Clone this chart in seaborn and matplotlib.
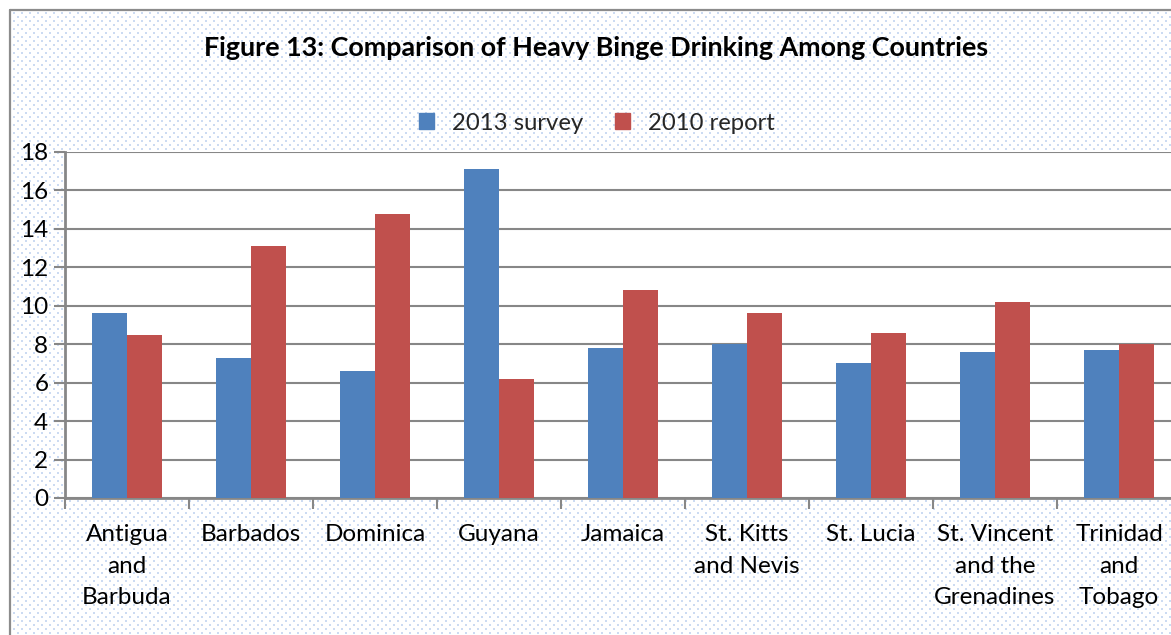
import numpy as np
import pandas as pd
import matplotlib
matplotlib.use("Agg")
import matplotlib.pyplot as plt
from matplotlib.patches import Rectangle
from matplotlib.lines import Line2D
import seaborn as sns

countries = ["Antigua\nand\nBarbuda", "Barbados", "Dominica", "Guyana", "Jamaica",
             "St. Kitts\nand Nevis", "St. Lucia", "St. Vincent\nand the\nGrenadines",
             "Trinidad\nand\nTobago"]
survey_2013 = [9.6, 7.3, 6.6, 17.1, 7.8, 8.0, 7.0, 7.6, 7.7]
report_2010 = [8.5, 13.1, 14.8, 6.2, 10.8, 9.6, 8.6, 10.2, 8.0]
series_names = ["2013 survey", "2010 report"]
y_ticks = [0, 2, 4, 6, 8, 10, 12, 14, 16, 18]

df = pd.DataFrame({
    "country": countries * 2,
    "value": survey_2013 + report_2010,
    "series": [series_names[0]] * len(countries) + [series_names[1]] * len(countries),
})

sns.set_theme(style="white")
plt.rcParams["font.family"] = ["Lato", "DejaVu Sans"]

W, H, DPI = 1171, 635, 100
fig = plt.figure(figsize=(W / DPI, H / DPI), dpi=DPI)
fig.patch.set_facecolor("white")

# dotted chart-area texture (staggered light blue dots)
img = np.ones((H, W, 4), dtype=float)
dot = np.array([0.80, 0.86, 0.95, 1.0])
for r, y in enumerate(range(12, H, 4)):
    off = 0 if (r % 2 == 0) else 4
    for x in range(13 + off, W, 8):
        img[y:y + 2, x:x + 2] = dot
fig.figimage(img, 0, 0, origin="upper", zorder=0)

# chart border (left and top visible)
border_col = "#8c8c8c"
fig.add_artist(Line2D([9.5 / W, 9.5 / W], [0, 1 - 9.5 / H], transform=fig.transFigure,
                      color=border_col, lw=1.6, zorder=1))
fig.add_artist(Line2D([9.5 / W, 1], [1 - 9.5 / H, 1 - 9.5 / H], transform=fig.transFigure,
                      color=border_col, lw=1.6, zorder=1))

left_px, right_px, top_px, bottom_px = 65, 1181, 152, 498
ax = fig.add_axes([left_px / W, 1 - bottom_px / H, (right_px - left_px) / W,
                   (bottom_px - top_px) / H])
ax.set_facecolor("white")
ax.set_zorder(2)

palette = {series_names[0]: "#4f81bd", series_names[1]: "#c0504d"}
sns.barplot(data=df, x="country", y="value", hue="series", palette=palette,
            width=0.565, gap=0, dodge=True, saturation=1, ax=ax, legend=False,
            edgecolor="none", linewidth=0, zorder=3)

grid_col = "#878787"
ax.set_ylim(0, 18)
ax.set_xlim(-0.5, len(countries) - 0.5)
ax.set_yticks(y_ticks)
ax.yaxis.grid(True, color=grid_col, lw=1.5, zorder=1)
ax.set_axisbelow(True)
for s in ["top", "right"]:
    ax.spines[s].set_visible(False)
for s in ["left", "bottom"]:
    ax.spines[s].set_color(grid_col)
    ax.spines[s].set_linewidth(2)

ax.set_xlabel("")
ax.set_ylabel("")
ax.tick_params(axis="y", which="major", length=8, width=1.5, color=grid_col,
               labelsize=17.5, labelcolor="black", pad=4, left=True)
ax.tick_params(axis="x", which="major", length=0, labelsize=17.5, labelcolor="black", pad=19)
ax.set_xticks(np.arange(len(countries)) - 0.5, minor=True)
ax.tick_params(axis="x", which="minor", length=8, width=1.5, color=grid_col, bottom=True)
for lab in ax.get_xticklabels():
    lab.set_linespacing(1.6)
    lab.set_verticalalignment("top")
    lab.set_horizontalalignment("center")

fig.text(596 / W, 1 - 48.5 / H,
         "Figure 13: Comparison of Heavy Binge Drinking Among Countries",
         ha="center", va="center", fontsize=19.4, fontweight="bold", color="black")

handles = [Rectangle((0, 0), 1, 1, color=palette[n]) for n in series_names]
fig.legend(handles, series_names, loc="center", bbox_to_anchor=(597 / W, 1 - 123 / H),
           ncol=2, frameon=False, fontsize=17.2, handlelength=0.62, handleheight=0.62,
           handletextpad=0.75, columnspacing=1.35)

fig.savefig("out.png", dpi=DPI)
